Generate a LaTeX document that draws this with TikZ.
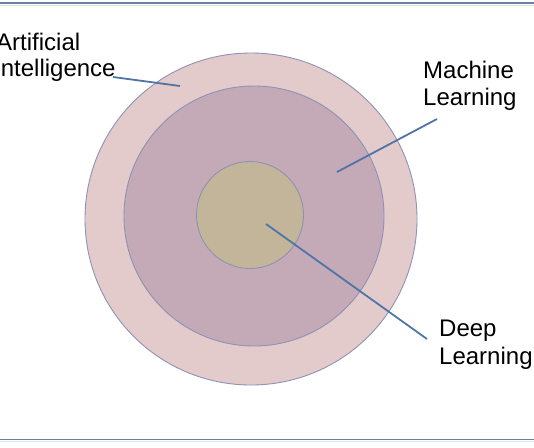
\documentclass[tikz,border=0pt]{standalone}
\usepackage{fontspec}
\setmainfont{Liberation Sans}
\definecolor{outerfill}{HTML}{E3CACB}
\definecolor{midfill}{HTML}{C4A9B6}
\definecolor{innerfill}{HTML}{C2B599}
\definecolor{ringline}{HTML}{8E92B4}
\definecolor{leader}{HTML}{4E74A8}
\definecolor{rule}{HTML}{6F7FA0}
\definecolor{ruleshade}{HTML}{DCE1EC}
\tikzset{
  ring/.style={draw=ringline, line width=0.9pt},
  leaderline/.style={draw=leader, line width=1.8pt},
  lbl/.style={anchor=base west, inner sep=0pt, font=\fontsize{24}{27}\selectfont},
}
\begin{document}
\begin{tikzpicture}[x=1pt,y=-1pt]
\useasboundingbox (0,0) rectangle (534,447);
% frame rules
\draw[ruleshade, line width=1.5pt] (0,5.5) -- (534,5.5);
\draw[rule, line width=1.1pt] (0,3) -- (534,3);
\draw[ruleshade, line width=1.5pt] (0,441.5) -- (534,441.5);
\draw[rule, line width=1.1pt] (0,439.3) -- (534,439.3);
% circles
\node[ring, circle, fill=outerfill, minimum size=332pt, inner sep=0pt] (outer) at (251,219) {};
\node[ring, circle, fill=midfill, minimum size=260pt, inner sep=0pt] (middle) at (254,216) {};
\node[ring, circle, fill=innerfill, minimum size=107pt, inner sep=0pt] (inner) at (250,215) {};
% labels
\node[lbl] (ai1) at (-4,50) {Artificial};
\node[lbl] (ai2) at (-6,76.7) {Intelligence};
\node[lbl] (ml1) at (423,78.3) {Machine};
\node[lbl] (ml2) at (423,105.7) {Learning};
\node[lbl] (dl1) at (439,336.7) {Deep};
\node[lbl] (dl2) at (439,364) {Learning};
% leader end points
\coordinate (aiS) at (113,77);
\coordinate (aiE) at (180,86);
\coordinate (mlS) at (437,119);
\coordinate (mlE) at (337,172);
\coordinate (dlS) at (266,224);
\coordinate (dlE) at (427,339);
\draw[leaderline] (aiS) -- (aiE);
\draw[leaderline] (mlS) -- (mlE);
\draw[leaderline] (dlS) -- (dlE);
\end{tikzpicture}
\end{document}
